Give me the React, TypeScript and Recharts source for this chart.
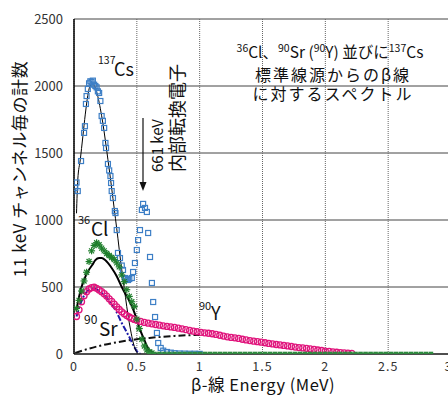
import React from 'react';
import {
  ComposedChart,
  Line,
  Scatter,
  XAxis,
  YAxis,
  CartesianGrid,
} from 'recharts';

const FONT = '"Noto Sans CJK JP", "Noto Sans", sans-serif';

const xTicks = [0, 0.5, 1, 1.5, 2, 2.5, 3];
const yTicks = [0, 500, 1000, 1500, 2000, 2500];

// 137Cs measured (MeV, counts)
const csPoints: [number, number][] = [
  [0.01, 1240], [0.02, 1280], [0.03, 1216], [0.056, 1440], [0.08, 1650],
  [0.087, 1700], [0.095, 1866], [0.1, 1925], [0.11, 1978], [0.12, 2020],
  [0.13, 2035], [0.14, 2030], [0.15, 2040], [0.16, 2010], [0.17, 2000],
  [0.18, 1990], [0.19, 1960], [0.2, 1948], [0.21, 1888], [0.22, 1776],
  [0.23, 1740], [0.24, 1687], [0.25, 1575], [0.255, 1537], [0.27, 1418],
  [0.28, 1370], [0.29, 1328], [0.295, 1276], [0.3, 1216], [0.31, 1164],
  [0.325, 1067], [0.33, 1052], [0.34, 925], [0.35, 754], [0.366, 716],
  [0.38, 660], [0.39, 627], [0.405, 567], [0.415, 560], [0.43, 552],
  [0.44, 560], [0.46, 567], [0.47, 612], [0.485, 679], [0.5, 776],
  [0.51, 850], [0.525, 925], [0.54, 1075], [0.55, 1120], [0.565, 1090],
  [0.58, 1060], [0.59, 903], [0.605, 724], [0.62, 530], [0.63, 388],
  [0.645, 276], [0.66, 157], [0.67, 82], [0.69, 45], [0.71, 25],
  [0.74, 15], [0.77, 10], [0.8, 6], [0.84, 4], [0.88, 3], [0.92, 2],
  [0.96, 2], [1.0, 1],
];

// 137Cs fitted curve
const csFit: [number, number][] = [
  [0.02, 1050], [0.03, 1300], [0.05, 1450], [0.07, 1620], [0.09, 1790],
  [0.11, 1930], [0.13, 2005], [0.15, 2015], [0.17, 1985], [0.19, 1920],
  [0.21, 1830], [0.23, 1720], [0.25, 1590], [0.27, 1450], [0.29, 1310],
  [0.31, 1160], [0.33, 1010], [0.35, 860], [0.37, 700], [0.39, 560],
  [0.41, 420], [0.43, 290], [0.45, 180], [0.47, 90], [0.49, 30], [0.51, 0],
];

// 36Cl measured
const clPoints: [number, number][] = [
  [0.02, 340], [0.04, 400], [0.06, 470], [0.08, 545], [0.1, 610],
  [0.12, 690], [0.14, 770], [0.16, 810], [0.18, 830], [0.2, 815],
  [0.22, 790], [0.24, 770], [0.26, 750], [0.28, 735], [0.3, 720],
  [0.32, 705], [0.34, 680], [0.36, 650], [0.38, 590], [0.4, 540],
  [0.42, 480], [0.44, 430], [0.46, 390], [0.48, 355], [0.5, 260],
  [0.52, 190], [0.54, 110], [0.56, 60], [0.58, 30], [0.6, 15], [0.62, 8],
];

// 36Cl fitted curve
const clFit: [number, number][] = [
  [0.02, 330], [0.04, 425], [0.06, 500], [0.09, 575], [0.12, 630],
  [0.145, 664], [0.17, 700], [0.2, 716], [0.22, 716], [0.25, 700],
  [0.3, 642], [0.34, 580], [0.38, 500], [0.42, 430], [0.45, 380],
  [0.48, 310], [0.5, 254], [0.53, 170], [0.56, 104], [0.58, 60],
  [0.6, 30], [0.63, 10], [0.66, 0],
];

// 90Sr + 90Y measured
const srYPoints: [number, number][] = [
  [0.02, 280], [0.04, 330], [0.06, 390], [0.08, 435], [0.1, 465],
  [0.12, 485], [0.14, 495], [0.16, 498], [0.18, 490], [0.2, 478],
  [0.22, 465], [0.24, 450], [0.26, 432], [0.28, 412], [0.3, 392],
  [0.32, 372], [0.34, 352], [0.36, 332], [0.38, 315], [0.4, 300],
  [0.42, 287], [0.44, 276], [0.46, 266], [0.48, 258], [0.5, 251],
  [0.53, 243], [0.56, 236], [0.59, 230], [0.62, 225], [0.65, 220],
  [0.68, 215], [0.71, 210], [0.74, 206], [0.77, 202], [0.8, 198],
  [0.83, 193], [0.86, 188], [0.89, 182], [0.92, 176], [0.95, 170],
  [0.98, 166], [1.01, 162], [1.04, 158], [1.07, 155], [1.1, 151],
  [1.13, 146], [1.16, 140], [1.19, 134], [1.22, 128], [1.25, 124],
  [1.28, 121], [1.31, 116], [1.34, 110], [1.37, 105], [1.4, 100],
  [1.43, 96], [1.46, 92], [1.49, 88], [1.52, 84], [1.55, 79],
  [1.58, 75], [1.61, 71], [1.64, 68], [1.67, 64], [1.7, 60],
  [1.73, 56], [1.76, 52], [1.79, 48], [1.82, 45], [1.85, 42],
  [1.88, 38], [1.91, 34], [1.94, 30], [1.97, 26], [2.0, 22],
  [2.03, 19], [2.06, 16], [2.09, 13], [2.12, 10], [2.15, 8],
  [2.18, 6], [2.21, 4],
];

// 90Sr theoretical
const srFit: [number, number][] = [
  [0.02, 280], [0.05, 370], [0.08, 435], [0.12, 480], [0.16, 490],
  [0.2, 470], [0.25, 430], [0.3, 370], [0.33, 328], [0.38, 231],
  [0.44, 127], [0.48, 52], [0.51, 10], [0.53, 0],
];

// 90Y theoretical
const yFit: [number, number][] = [
  [0.01, 8], [0.1, 35], [0.2, 60], [0.3, 80], [0.4, 97], [0.5, 110],
  [0.6, 120], [0.7, 128], [0.8, 135], [0.9, 140], [1.0, 142],
];

// background channels on the baseline
const baseline: [number, number][] = [
  [0.6, 0], [0.64, 0], [0.68, 0], [0.72, 0], [0.76, 0], [0.8, 0],
  [0.84, 0], [0.88, 0], [0.92, 0], [0.96, 0], [1.0, 0], [1.04, 0],
  [1.08, 0], [1.12, 0], [1.16, 0], [1.2, 0], [1.24, 0], [1.28, 0],
  [1.32, 0], [1.36, 0], [1.4, 0], [1.44, 0], [1.48, 0], [1.52, 0],
  [1.56, 0], [1.6, 0], [1.64, 0], [1.68, 0], [1.72, 0], [1.76, 0],
  [1.8, 0], [1.84, 0], [1.88, 0], [1.92, 0], [1.96, 0], [2.0, 0],
  [2.04, 0], [2.08, 0], [2.12, 0], [2.16, 0], [2.2, 0], [2.24, 0],
  [2.28, 0], [2.32, 0], [2.36, 0], [2.4, 0], [2.44, 0], [2.48, 0],
  [2.52, 0], [2.56, 0], [2.6, 0], [2.64, 0], [2.68, 0], [2.72, 0],
  [2.76, 0], [2.8, 0], [2.84, 0],
];

const rows = (pts: [number, number][]) => pts.map(([x, y]) => ({ x, y }));

const OpenSquare = (p: any) => (
  <rect x={p.cx - 2.5} y={p.cy - 2.5} width={5} height={5} fill="none" stroke="#3d7fc6" strokeWidth={1.2} />
);
const Asterisk = (p: any) => (
  <g stroke="#1f7f2c" strokeWidth={1.2}>
    <line x1={p.cx - 3.5} y1={p.cy} x2={p.cx + 3.5} y2={p.cy} />
    <line x1={p.cx} y1={p.cy - 3.5} x2={p.cx} y2={p.cy + 3.5} />
    <line x1={p.cx - 2.5} y1={p.cy - 2.5} x2={p.cx + 2.5} y2={p.cy + 2.5} />
    <line x1={p.cx - 2.5} y1={p.cy + 2.5} x2={p.cx + 2.5} y2={p.cy - 2.5} />
  </g>
);
const OpenCircle = (p: any) => (
  <circle cx={p.cx} cy={p.cy} r={3} fill="none" stroke="#e0157c" strokeWidth={1.3} />
);
const FilledSquare = (p: any) => (
  <rect x={p.cx - 2.3} y={p.cy - 2.3} width={4.6} height={4.6} fill="#2e8a3e" />
);

export default function App() {
  return (
    <div style={{ position: 'relative', width: 448, height: 396, overflow: 'hidden', background: '#fff', fontFamily: FONT }}>
      <style>{'body{margin:0;overflow:hidden}'}</style>
      <ComposedChart width={452} height={396} margin={{ top: 19, right: 1, bottom: 12, left: 0 }}>
        <CartesianGrid vertical={false} stroke="#444" />
        <CartesianGrid horizontal={false} stroke="#666" strokeDasharray="1 1" />
        <XAxis
          type="number"
          dataKey="x"
          domain={[0, 3]}
          ticks={xTicks}
          height={30}
          tickLine={false}
          tickMargin={2}
          axisLine={{ stroke: '#333', strokeWidth: 1.5 }}
          tick={{ fontSize: 12.5, fill: '#333', fontFamily: FONT, letterSpacing: 1 }}
          allowDataOverflow
        />
        <YAxis
          type="number"
          dataKey="y"
          domain={[0, 2500]}
          ticks={yTicks}
          width={74}
          tickLine={false}
          tickMargin={5}
          axisLine={{ stroke: '#000', strokeWidth: 1.5 }}
          tick={{ fontSize: 13, fill: '#333', fontFamily: FONT }}
          allowDataOverflow
        />
        <Scatter data={rows(srYPoints)} dataKey="y" shape={OpenCircle} isAnimationActive={false} />
        <Line data={rows(yFit)} dataKey="y" type="monotone" stroke="#111" strokeWidth={2} strokeDasharray="7 3 2 3" dot={false} isAnimationActive={false} />
        <Line data={rows(srFit)} dataKey="y" type="monotone" stroke="#1c1ca8" strokeWidth={2} strokeDasharray="6 2 2 2" dot={false} isAnimationActive={false} />
        <Scatter data={rows(csPoints)} dataKey="y" shape={OpenSquare} isAnimationActive={false} />
        <Line data={rows(csFit)} dataKey="y" type="monotone" stroke="#000" strokeWidth={1} dot={false} isAnimationActive={false} />
        <Line data={rows(clFit)} dataKey="y" type="monotone" stroke="#000" strokeWidth={2} dot={false} isAnimationActive={false} />
        <Scatter data={rows(clPoints)} dataKey="y" shape={Asterisk} isAnimationActive={false} />
        <Scatter data={rows(baseline)} dataKey="y" shape={FilledSquare} isAnimationActive={false} />
      </ComposedChart>

      <svg width={448} height={396} style={{ position: 'absolute', left: 0, top: 0, pointerEvents: 'none' }} fontFamily={FONT}>
        <text transform="translate(18,169) rotate(-90)" textAnchor="middle" dominantBaseline="central" fontSize={17} fill="#111" letterSpacing={0.6}>
          11 keV チャンネル毎の計数
        </text>
        <text x={263} y={391} textAnchor="middle" fontSize={16.5} fill="#111" letterSpacing={0.5}>
          β-線 Energy (MeV)
        </text>

        <text x={98} y={64} fontSize={10.5} fill="#111">137</text>
        <text x={114} y={76} fontSize={18} fill="#111">Cs</text>

        <text x={78} y={224} fontSize={11} fill="#111">36</text>
        <text x={91} y={236} fontSize={19} fill="#111">Cl</text>

        <text x={84} y={324} fontSize={12} fill="#111">90</text>
        <text x={99} y={336} fontSize={19} fill="#111">Sr</text>

        <text x={199} y={310} fontSize={11} fill="#111">90</text>
        <text x={211} y={320} fontSize={18} fill="#111">Y</text>

        <text x={330} y={58} textAnchor="middle" fontSize={15.5} fill="#111">
          <tspan fontSize={10.5} dy={-6}>36</tspan>
          <tspan dy={6}>Cl、</tspan>
          <tspan fontSize={10.5} dy={-6}>90</tspan>
          <tspan dy={6}>Sr (</tspan>
          <tspan fontSize={10.5} dy={-6}>90</tspan>
          <tspan dy={6}>Y) 並びに</tspan>
          <tspan fontSize={10.5} dy={-6}>137</tspan>
          <tspan dy={6}>Cs</tspan>
        </text>
        <text x={333} y={81} textAnchor="middle" fontSize={16} fill="#111" letterSpacing={2}>標準線源からのβ線</text>
        <text x={333} y={100} textAnchor="middle" fontSize={16} fill="#111" letterSpacing={2}>に対するスペクトル</text>

        <line x1={143} y1={118} x2={143} y2={184} stroke="#111" strokeWidth={1.2} />
        <path d="M139.5,182 L143,191 L146.5,182 Z" fill="#111" />
        <text transform="translate(156,172) rotate(-90)" dominantBaseline="central" fontSize={15} fill="#111">661 keV</text>
        <text transform="translate(176,172) rotate(-90)" dominantBaseline="central" fontSize={18} fill="#111">内部転換電子</text>
      </svg>
    </div>
  );
}
